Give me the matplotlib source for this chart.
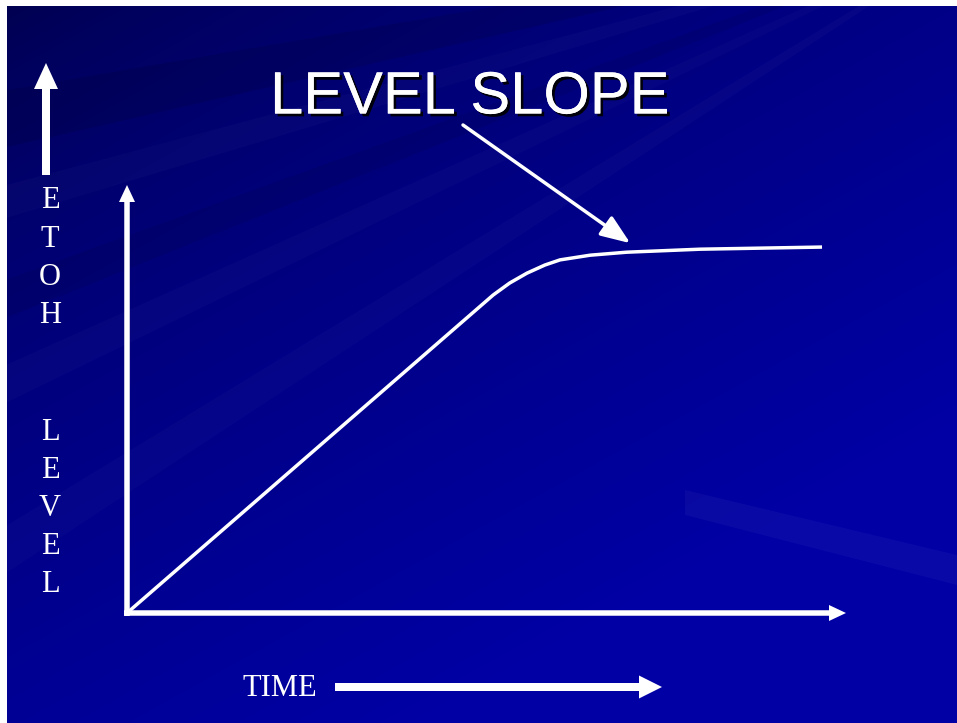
import numpy as np
import matplotlib
matplotlib.use("Agg")
import matplotlib.pyplot as plt
import matplotlib.patheffects as pe
from matplotlib.patches import Polygon

# curve (time vs EtOH level, arbitrary units 0-100)
time = [0, 51.0, 53.3, 55.7, 58.2, 60.3, 64.5, 69.6, 79.8, 96.8]
level = [0, 74.3, 77.1, 79.4, 81.3, 82.5, 83.6, 84.3, 85.0, 85.5]

title = "LEVEL SLOPE"
ylabel_top = "ETOH"
ylabel_bottom = "LEVEL"
xlabel = "TIME"

W, H = 957, 723
fig = plt.figure(figsize=(W / 100, H / 100), dpi=100)
fig.patch.set_facecolor("white")

# -----------------------------
# background (slide) in pixel coords
# -----------------------------
deco = fig.add_axes([0, 0, 1, 1])
deco.set_xlim(0, W)
deco.set_ylim(H, 0)
deco.axis("off")

gx, gy = np.meshgrid(np.linspace(0, 1, 400), np.linspace(0, 1, 300))
s = np.clip(0.55 * gx + 0.75 * gy, 0, 1) ** 0.7
bg = np.zeros((300, 400, 3))
bg[..., 2] = (80 + 85 * s) / 255
deco.imshow(bg, extent=(7, W, H, 6), aspect="auto", zorder=0)

# faint rays fanning out from the upper right to the left edge
apex = (1000, -80)
rays = [((-50, 100), (-50, 160), 0.10, "black"),
        ((-50, 300), (-50, 340), 0.07, "black"),
        ((-50, 200), (-50, 235), 0.025, "white"),
        ((-50, 390), (-50, 430), 0.025, "white"),
        ((-50, 560), (-50, 610), 0.025, "white")]
for p1, p2, a, c in rays:
    deco.add_patch(Polygon([apex, p1, p2], closed=True, fc=c, ec="none",
                           alpha=a, zorder=1))
deco.add_patch(Polygon([(685, 490), (957, 555), (957, 585), (685, 515)],
                       closed=True, fc="white", ec="none", alpha=0.04, zorder=1))
deco.add_patch(plt.Rectangle((0, 0), 7, H, fc="white", ec="none", zorder=2))
deco.add_patch(plt.Rectangle((0, 0), W, 6, fc="white", ec="none", zorder=2))

white = "white"

# title with shadow
deco.text(470, 98, title, fontsize=43, family="Liberation Sans", color=white,
          ha="center", va="center", zorder=5,
          path_effects=[pe.withSimplePatchShadow(offset=(2, -2), shadow_rgbFace="black", alpha=0.9),
                        pe.Normal()])

# vertical label letters
for i, ch in enumerate(ylabel_top):
    deco.text(50, 201 + i * 38.3, ch, fontsize=22, family="Liberation Serif",
              color=white, ha="center", va="center", zorder=5)
for i, ch in enumerate(ylabel_bottom):
    deco.text(50, 432 + i * 38, ch, fontsize=22, family="Liberation Serif",
              color=white, ha="center", va="center", zorder=5)

deco.text(280, 688, xlabel, fontsize=22, family="Liberation Serif",
          color=white, ha="center", va="center", zorder=5)

# big arrows
deco.arrow(46, 175, 0, -112, width=8, head_width=24, head_length=26,
           length_includes_head=True, fc=white, ec="none", zorder=5)
deco.arrow(335, 687, 327, 0, width=8, head_width=23, head_length=23,
           length_includes_head=True, fc=white, ec="none", zorder=5)

# chart axes arrows
deco.arrow(127, 616, 0, -431, width=5.5, head_width=16, head_length=17,
           length_includes_head=True, fc=white, ec="none", zorder=5)
deco.arrow(124, 613, 722, 0, width=5.5, head_width=16, head_length=17,
           length_includes_head=True, fc=white, ec="none", zorder=5)

# -----------------------------
# the curve
# -----------------------------
ax = fig.add_axes([127 / W, (H - 613) / H, (845 - 127) / W, (613 - 185) / H])
ax.set_xlim(0, 100)
ax.set_ylim(0, 100)
ax.patch.set_alpha(0)
ax.axis("off")
ax.plot(time, level, color=white, lw=2.5, solid_joinstyle="round",
        solid_capstyle="butt", zorder=6)

ax.annotate("", xy=(70.1, 86.4), xycoords="data",
            xytext=(463, H - 125), textcoords="figure pixels",
            arrowprops=dict(arrowstyle="-|>,head_length=0.9,head_width=0.35",
                            color=white, lw=2.5, shrinkA=0, shrinkB=0,
                            mutation_scale=20))

fig.savefig("out.png", dpi=100)
